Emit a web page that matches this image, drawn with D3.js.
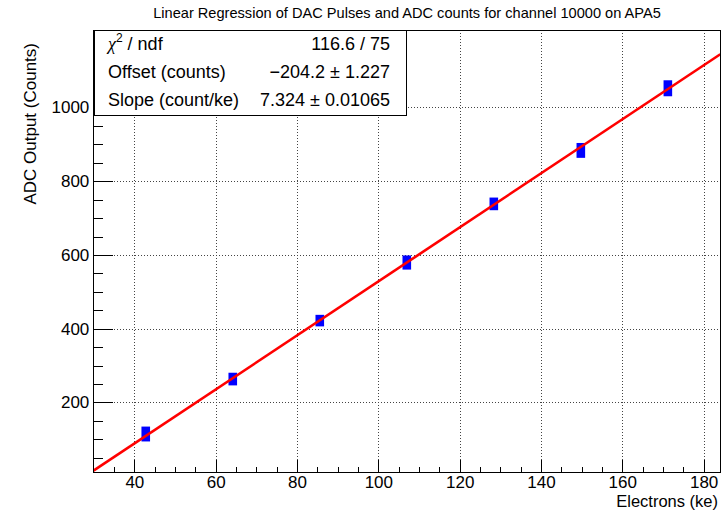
<!DOCTYPE html>
<html>
<head>
<meta charset="utf-8">
<script src="https://cdn.jsdelivr.net/npm/d3@7"></script>
<style>
  html, body { margin: 0; padding: 0; background: #fff; }
  svg { display: block; font-family: "Liberation Sans", Arial, Helvetica, sans-serif; }
</style>
</head>
<body>
<svg id="chart" width="727" height="510"></svg>
<script>
// Calibration points: charge injected (ke) and the spread of ADC readings at each step
const electrons = [42.8, 64.2, 85.6, 107.0, 128.4, 149.8, 171.2];
const adcLow    = [106, 258, 418, 572, 733, 875, 1042];
const adcHigh   = [123, 269, 426, 587, 744, 892, 1062];

// Linear fit result
const fitOffset = -204.2;
const fitSlope = 7.324;

// Axis ticks
const xMajorTicks = [40, 60, 80, 100, 120, 140, 160, 180];
const yMajorTicks = [200, 400, 600, 800, 1000];
const xMinorTicks = d3.range(35, 184, 5);
const yMinorTicks = d3.range(50, 1210, 50);

// Statistics box
const statsLabels = ["χ2 / ndf", "Offset (counts)", "Slope (count/ke)"];
const statsValues = ["116.6 / 75", "\u2212204.2 \u00b1 1.227", "7.324 \u00b1 0.01065"];

const titleText = "Linear Regression of DAC Pulses and ADC counts for channel 10000 on APA5";
const xTitle = "Electrons (ke)";
const yTitle = "ADC Output (Counts)";

const svg = d3.select("#chart");
const frame = { left: 93.3, right: 720.3, top: 30, bottom: 472.7 };

const x = d3.scaleLinear().domain([29.9, 184.1]).range([frame.left, frame.right]);
const y = d3.scaleLinear().domain([9.6, 1210]).range([frame.bottom, frame.top]);

svg.append("rect").attr("width", 727).attr("height", 510).attr("fill", "#fff");

// Dotted grid at major ticks
const grid = svg.append("g").attr("stroke", "#444").attr("stroke-width", 1)
  .attr("stroke-dasharray", "1 2").attr("shape-rendering", "crispEdges");
grid.selectAll("line.gx").data(xMajorTicks).join("line")
  .attr("x1", d => Math.round(x(d)) + 0.5).attr("x2", d => Math.round(x(d)) + 0.5)
  .attr("y1", frame.top).attr("y2", frame.bottom);
grid.selectAll("line.gy").data(yMajorTicks).join("line")
  .attr("x1", frame.left).attr("x2", frame.right)
  .attr("y1", d => Math.round(y(d)) + 0.5).attr("y2", d => Math.round(y(d)) + 0.5);

// Axes with inward ticks
const xAxisMajor = d3.axisBottom(x).tickValues(xMajorTicks).tickSize(-13).tickPadding(3.5).tickFormat(d3.format("d"));
const xAxisMinor = d3.axisBottom(x).tickValues(xMinorTicks.filter(v => !xMajorTicks.includes(v))).tickSize(-6).tickFormat("");
const yAxisMajor = d3.axisLeft(y).tickValues(yMajorTicks).tickSize(-20).tickPadding(4).tickFormat(d3.format("d"));
const yAxisMinor = d3.axisLeft(y).tickValues(yMinorTicks.filter(v => !yMajorTicks.includes(v))).tickSize(-10).tickFormat("");

function styleAxis(g) {
  g.select(".domain").remove();
  g.selectAll(".tick line").attr("stroke", "#000").attr("shape-rendering", "crispEdges");
  g.selectAll(".tick text").attr("fill", "#000").attr("font-size", 17)
    .attr("font-family", "Liberation Sans, Arial, sans-serif");
}

svg.append("g").attr("transform", `translate(0,${frame.bottom})`).call(xAxisMinor).call(styleAxis);
svg.append("g").attr("transform", `translate(0,${frame.bottom})`).call(xAxisMajor).call(styleAxis);
svg.append("g").attr("transform", `translate(${frame.left},0)`).call(yAxisMinor).call(styleAxis);
svg.append("g").attr("transform", `translate(${frame.left},0)`).call(yAxisMajor).call(styleAxis);

// Data markers: filled squares at the lowest and highest reading of each step
const half = 4.3;
const pts = svg.append("g").attr("fill", "#0000ff");
electrons.forEach((e, i) => {
  pts.append("rect")
    .attr("x", x(e) - half).attr("width", 2 * half)
    .attr("y", y(adcHigh[i]) - half)
    .attr("height", y(adcLow[i]) - y(adcHigh[i]) + 2 * half);
});

// Fit line
const fitX = [29.95, 184.1];
const line = d3.line().x(d => x(d)).y(d => y(fitOffset + fitSlope * d));
svg.append("path").datum(fitX).attr("d", line)
  .attr("fill", "none").attr("stroke", "#ff0000").attr("stroke-width", 2.6);

// Frame
svg.append("rect").attr("x", frame.left).attr("y", frame.top)
  .attr("width", frame.right - frame.left).attr("height", frame.bottom - frame.top)
  .attr("fill", "none").attr("stroke", "#000").attr("stroke-width", 1).attr("shape-rendering", "crispEdges");

// Stats box
const box = { x: 94, y: 30, w: 312, h: 85 };
svg.append("rect").attr("x", box.x).attr("y", box.y).attr("width", box.w).attr("height", box.h)
  .attr("fill", "#fff").attr("stroke", "#000").attr("stroke-width", 1).attr("shape-rendering", "crispEdges");
const rowH = box.h / statsLabels.length;
const statFont = 18;
statsLabels.forEach((lab, i) => {
  const cy = box.y + rowH * (i + 0.5) + 5.5;
  const t = svg.append("text").attr("x", box.x + 14).attr("y", cy).attr("font-size", statFont).attr("fill", "#000");
  if (i === 0) {
    t.append("tspan").attr("font-family", "Liberation Serif, serif").attr("font-style", "italic").text("χ");
    t.append("tspan").attr("font-size", 12).attr("dy", -8).text("2");
    t.append("tspan").attr("dy", 8).text(" / ndf");
  } else {
    t.text(lab);
  }
  svg.append("text").attr("x", box.x + box.w - 16).attr("y", cy).attr("text-anchor", "end")
    .attr("font-size", statFont).attr("fill", "#000").text(statsValues[i]);
});

// Titles
svg.append("text").attr("x", 407).attr("y", 18).attr("text-anchor", "middle")
  .attr("font-size", 14.6).attr("fill", "#000").text(titleText);
svg.append("text").attr("x", 718).attr("y", 507).attr("text-anchor", "end")
  .attr("font-size", 16.5).attr("fill", "#000").text(xTitle);
svg.append("text").attr("transform", `translate(36,43) rotate(-90)`).attr("text-anchor", "end")
  .attr("font-size", 17).attr("fill", "#000").text(yTitle);
</script>
</body>
</html>
